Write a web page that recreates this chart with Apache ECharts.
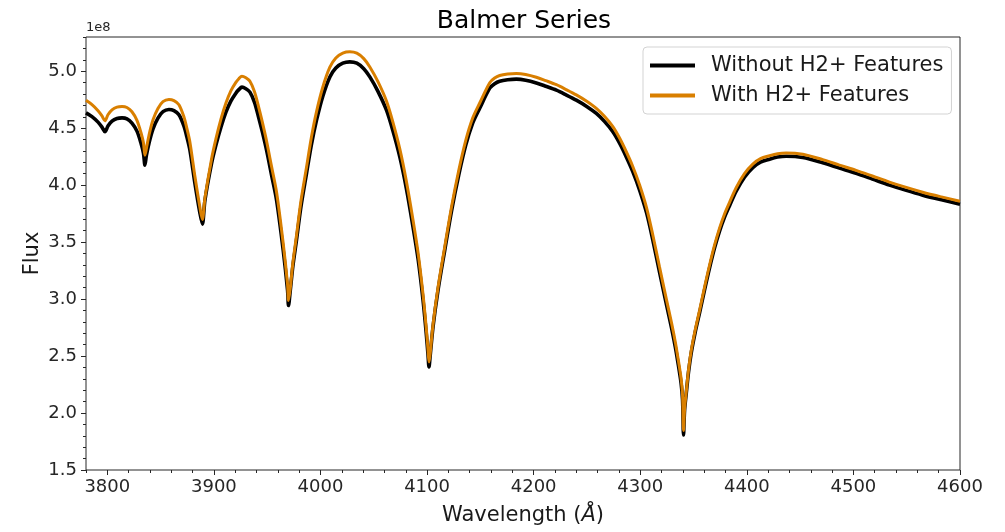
<!DOCTYPE html>
<html>
<head>
<meta charset="utf-8">
<script src="https://cdn.jsdelivr.net/npm/echarts@6/dist/echarts.min.js"></script>
<style>html,body{margin:0;padding:0;background:#fff}#c{width:1005px;height:532px}</style>
</head>
<body>
<div id="c"></div>
<script>
// Wavelength samples (Angstrom)
const wavelength = [3780.0, 3785.6, 3791.3, 3795.0, 3797.8, 3800.6, 3804.4, 3809.1, 3813.8, 3818.4,
  3823.1, 3827.8, 3831.6, 3833.9, 3835.3, 3836.7, 3839.1, 3842.8, 3847.5, 3852.2,
  3857.8, 3862.5, 3867.2, 3871.9, 3874.7, 3877.5, 3882.2, 3886.9, 3889.2, 3891.6,
  3897.8, 3901.9, 3906.6, 3911.3, 3915.9, 3920.6, 3923.4, 3926.3, 3930.0, 3933.8,
  3938.0, 3941.7, 3945.5, 3949.4, 3954.1, 3958.8, 3965.0, 3969.1, 3970.0, 3971.7,
  3974.1, 3977.5, 3981.6, 3986.9, 3991.4, 3996.3, 4002.2, 4008.8, 4014.4, 4020.9,
  4027.5, 4034.1, 4040.6, 4046.3, 4053.8, 4061.9, 4067.8, 4074.4, 4080.5, 4086.8,
  4091.7, 4096.2, 4099.2, 4100.9, 4101.8, 4102.8, 4105.6, 4110.3, 4116.6, 4123.1,
  4129.7, 4136.3, 4142.8, 4149.4, 4158.8, 4163.4, 4168.1, 4175.6, 4183.8, 4192.5,
  4202.5, 4211.3, 4221.3, 4230.0, 4240.0, 4249.4, 4258.8, 4266.6, 4274.3, 4280.6,
  4286.9, 4292.8, 4299.4, 4306.0, 4311.8, 4318.1, 4324.7, 4329.4, 4333.1, 4335.9,
  4338.3, 4339.7, 4340.6, 4341.6, 4343.2, 4345.3, 4347.8, 4351.4, 4355.6, 4360.3,
  4365.0, 4369.7, 4374.4, 4379.1, 4383.8, 4390.0, 4397.8, 4405.6, 4412.8, 4421.3,
  4428.8, 4436.9, 4452.5, 4471.2, 4486.9, 4502.5, 4517.8, 4533.8, 4548.8, 4565.0,
  4581.6, 4600.0];
// Flux in units of 1e8
const fluxWithout = [4.634, 4.601, 4.553, 4.509, 4.468, 4.518, 4.561, 4.585, 4.590, 4.581,
  4.544, 4.474, 4.368, 4.281, 4.175, 4.263, 4.368, 4.491, 4.588, 4.645,
  4.664, 4.654, 4.618, 4.518, 4.421, 4.307, 4.015, 3.754, 3.658, 3.868,
  4.190, 4.351, 4.509, 4.640, 4.737, 4.807, 4.838, 4.860, 4.846, 4.816,
  4.728, 4.605, 4.465, 4.307, 4.088, 3.868, 3.430, 3.079, 2.943, 3.079,
  3.289, 3.518, 3.807, 4.103, 4.351, 4.570, 4.781, 4.950, 5.028, 5.070,
  5.082, 5.070, 5.022, 4.950, 4.825, 4.658, 4.482, 4.248, 3.974, 3.634,
  3.342, 2.991, 2.702, 2.509, 2.404, 2.491, 2.757, 3.079, 3.430, 3.781,
  4.088, 4.351, 4.544, 4.675, 4.851, 4.890, 4.912, 4.925, 4.930, 4.921,
  4.897, 4.868, 4.833, 4.794, 4.746, 4.693, 4.629, 4.557, 4.468, 4.368,
  4.248, 4.123, 3.956, 3.754, 3.518, 3.237, 2.947, 2.746, 2.570, 2.412,
  2.263, 2.114, 1.807, 2.026, 2.175, 2.360, 2.526, 2.702, 2.877, 3.079,
  3.272, 3.447, 3.596, 3.719, 3.820, 3.947, 4.070, 4.154, 4.202, 4.228,
  4.246, 4.254, 4.243, 4.196, 4.149, 4.103, 4.053, 4.000, 3.956, 3.912,
  3.873, 3.833];
const fluxWith = [4.744, 4.706, 4.653, 4.607, 4.564, 4.618, 4.661, 4.685, 4.690, 4.681,
  4.644, 4.569, 4.460, 4.371, 4.263, 4.323, 4.438, 4.571, 4.673, 4.733,
  4.752, 4.742, 4.706, 4.598, 4.496, 4.377, 4.075, 3.804, 3.698, 3.888,
  4.230, 4.406, 4.579, 4.720, 4.827, 4.902, 4.934, 4.956, 4.942, 4.911,
  4.821, 4.695, 4.550, 4.387, 4.163, 3.938, 3.490, 3.129, 2.987, 3.099,
  3.319, 3.558, 3.857, 4.158, 4.416, 4.645, 4.861, 5.035, 5.116, 5.158,
  5.170, 5.158, 5.110, 5.037, 4.910, 4.738, 4.557, 4.318, 4.039, 3.694,
  3.397, 3.041, 2.750, 2.554, 2.448, 2.511, 2.777, 3.104, 3.460, 3.816,
  4.128, 4.393, 4.589, 4.721, 4.899, 4.940, 4.962, 4.975, 4.980, 4.971,
  4.947, 4.917, 4.881, 4.841, 4.792, 4.738, 4.674, 4.602, 4.513, 4.413,
  4.293, 4.168, 4.001, 3.799, 3.562, 3.281, 2.991, 2.789, 2.613, 2.454,
  2.305, 2.156, 1.847, 2.036, 2.190, 2.380, 2.546, 2.722, 2.899, 3.103,
  3.297, 3.473, 3.623, 3.747, 3.849, 3.977, 4.100, 4.184, 4.232, 4.258,
  4.276, 4.283, 4.271, 4.224, 4.176, 4.130, 4.080, 4.027, 3.982, 3.938,
  3.899, 3.859];
const xTicks = [3800, 3900, 4000, 4100, 4200, 4300, 4400, 4500, 4600];
const yTicks = [1.5, 2.0, 2.5, 3.0, 3.5, 4.0, 4.5, 5.0];
const seriesNames = ['Without H2+ Features', 'With H2+ Features'];

const FONT = 'DejaVu Sans';
const zip = (xs, ys) => xs.map((x, i) => [x, ys[i]]);
const GRID_H = 532 - 37 - 62;
const GRID_W = 1005 - 86 - 45;

const chart = echarts.init(document.getElementById('c'), null, {renderer: 'canvas'});
chart.setOption({
  animation: false,
  backgroundColor: '#fff',
  title: {
    text: 'Balmer Series', left: 519, top: 4, textAlign: 'center',
    textStyle: {fontFamily: FONT, fontSize: 25, fontWeight: 'normal', color: '#000'}
  },
  graphic: [{
    type: 'text', left: 86, top: 21,
    style: {text: '1e8', font: '13px "DejaVu Sans"', fill: '#262626'}
  }],
  legend: {
    orient: 'vertical', left: 643, top: 47,
    data: seriesNames,
    icon: 'rect', itemWidth: 45, itemHeight: 4, itemGap: 9,
    padding: [8, 8, 8, 7],
    backgroundColor: 'rgba(255,255,255,0.85)',
    borderColor: '#d3d3d3', borderWidth: 1, borderRadius: 4,
    textStyle: {fontFamily: FONT, fontSize: 21, color: '#1a1a1a', padding: [0, 0, 0, 11]}
  },
  grid: {left: 86, right: 45, top: 37, bottom: 62, show: true, borderColor: '#262626', borderWidth: 1, backgroundColor: 'transparent'},
  xAxis: [{
    type: 'value', min: 3780, max: 4600,
    name: 'Wavelength ({i|Å})', nameLocation: 'middle', nameGap: 35, nameMoveOverlap: false,
    nameTextStyle: {fontFamily: FONT, fontSize: 21, color: '#1a1a1a',
      rich: {i: {fontFamily: FONT, fontSize: 21, fontStyle: 'italic', color: '#1a1a1a'}}},
    axisLine: {show: false},
    axisTick: {show: true, length: 5, customValues: xTicks, lineStyle: {color: '#262626', width: 1}},
    axisLabel: {customValues: xTicks, margin: 8, fontFamily: FONT, fontSize: 18, color: '#262626',
      formatter: v => String(v)},
    splitLine: {show: false}
  }, {
    type: 'value', min: 3780, max: 4600, interval: 20,
    position: 'top', offset: -GRID_H,
    axisLine: {show: false},
    axisTick: {show: true, inside: true, length: 3, lineStyle: {color: '#262626', width: 1}},
    axisLabel: {show: false},
    splitLine: {show: false}
  }],
  yAxis: [{
    type: 'value', min: 1.5, max: 5.3,
    name: 'Flux', nameLocation: 'middle', nameGap: 43, nameRotate: 90, nameMoveOverlap: false,
    nameTextStyle: {fontFamily: FONT, fontSize: 21, color: '#1a1a1a'},
    axisLine: {show: false},
    axisTick: {show: true, length: 5, customValues: yTicks, lineStyle: {color: '#262626', width: 1}},
    axisLabel: {customValues: yTicks, margin: 9, fontFamily: FONT, fontSize: 18, color: '#262626',
      formatter: v => v.toFixed(1)},
    splitLine: {show: false}
  }, {
    type: 'value', min: 1.5, max: 5.3, interval: 0.1,
    position: 'right', offset: -GRID_W,
    axisLine: {show: false},
    axisTick: {show: true, inside: true, length: 3, lineStyle: {color: '#262626', width: 1}},
    axisLabel: {show: false},
    splitLine: {show: false}
  }],
  series: [{
    name: seriesNames[0], type: 'line', xAxisIndex: 0, yAxisIndex: 0,
    data: zip(wavelength, fluxWithout),
    showSymbol: false, symbol: 'none', smooth: 0.3, z: 2,
    color: '#000000', lineStyle: {color: '#000000', width: 3.6}
  }, {
    name: seriesNames[1], type: 'line', xAxisIndex: 0, yAxisIndex: 0,
    data: zip(wavelength, fluxWith),
    showSymbol: false, symbol: 'none', smooth: 0.3, z: 3,
    color: '#d97f00', lineStyle: {color: '#d97f00', width: 3}
  }]
});
</script>
</body>
</html>
